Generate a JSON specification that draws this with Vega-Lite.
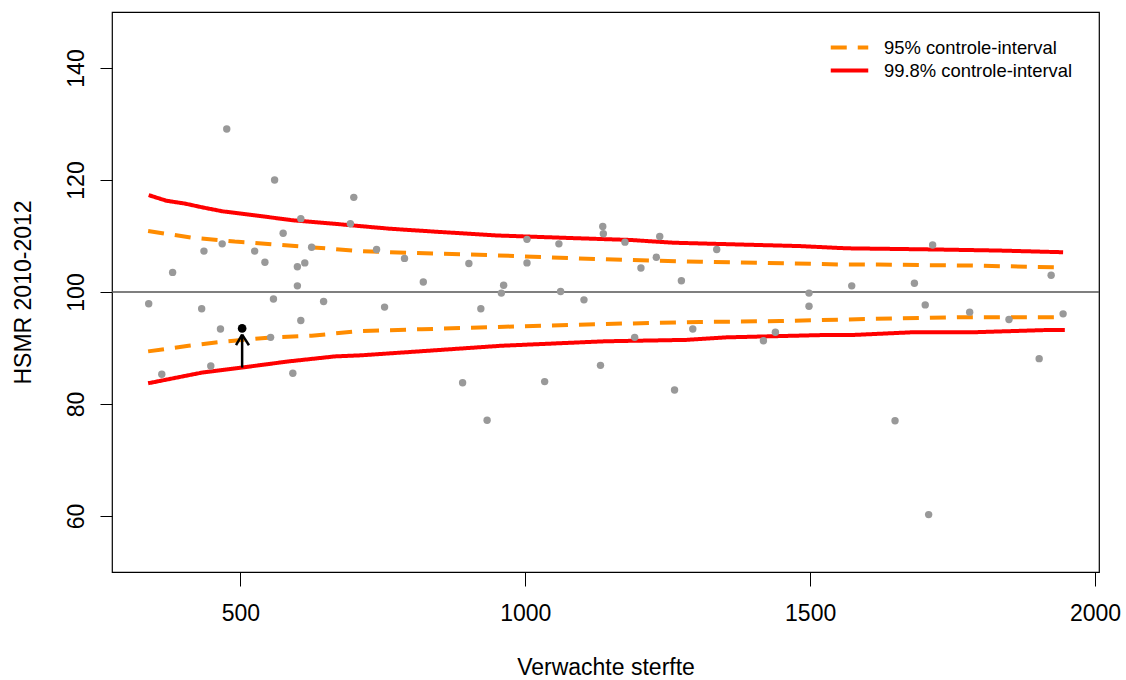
{
  "$schema": "https://vega.github.io/schema/vega-lite/v6.json",
  "width": 987,
  "height": 560,
  "autosize": {"type": "none"},
  "padding": {"left": 112, "top": 12, "right": 27, "bottom": 108},
  "background": "white",
  "config": {
    "view": {"stroke": "black", "strokeWidth": 1.2},
    "font": "Liberation Sans",
    "axis": {"grid": false, "domain": false, "tickColor": "black", "tickWidth": 1, "labelColor": "black", "titleColor": "black", "labelFont": "Liberation Sans", "titleFont": "Liberation Sans", "labelFontSize": 23, "titleFontSize": 23, "titleFontWeight": "normal", "labelFlush": false, "labelOverlap": false, "format": "d"}
  },
  "datasets": {
    "lines": [
      {"E": 339, "HSMR": 117.3, "band": "99.8% controle-interval", "side": "hi998"},
      {"E": 370, "HSMR": 116.3, "band": "99.8% controle-interval", "side": "hi998"},
      {"E": 402, "HSMR": 115.8, "band": "99.8% controle-interval", "side": "hi998"},
      {"E": 434, "HSMR": 115.1, "band": "99.8% controle-interval", "side": "hi998"},
      {"E": 469, "HSMR": 114.4, "band": "99.8% controle-interval", "side": "hi998"},
      {"E": 525, "HSMR": 113.7, "band": "99.8% controle-interval", "side": "hi998"},
      {"E": 592, "HSMR": 112.8, "band": "99.8% controle-interval", "side": "hi998"},
      {"E": 674, "HSMR": 112.1, "band": "99.8% controle-interval", "side": "hi998"},
      {"E": 762, "HSMR": 111.3, "band": "99.8% controle-interval", "side": "hi998"},
      {"E": 838, "HSMR": 110.8, "band": "99.8% controle-interval", "side": "hi998"},
      {"E": 949, "HSMR": 110.1, "band": "99.8% controle-interval", "side": "hi998"},
      {"E": 1090, "HSMR": 109.6, "band": "99.8% controle-interval", "side": "hi998"},
      {"E": 1183, "HSMR": 109.3, "band": "99.8% controle-interval", "side": "hi998"},
      {"E": 1260, "HSMR": 108.8, "band": "99.8% controle-interval", "side": "hi998"},
      {"E": 1388, "HSMR": 108.45, "band": "99.8% controle-interval", "side": "hi998"},
      {"E": 1482, "HSMR": 108.2, "band": "99.8% controle-interval", "side": "hi998"},
      {"E": 1564, "HSMR": 107.8, "band": "99.8% controle-interval", "side": "hi998"},
      {"E": 1716, "HSMR": 107.6, "band": "99.8% controle-interval", "side": "hi998"},
      {"E": 1833, "HSMR": 107.4, "band": "99.8% controle-interval", "side": "hi998"},
      {"E": 1944, "HSMR": 107.1, "band": "99.8% controle-interval", "side": "hi998"},
      {"E": 338, "HSMR": 83.7, "band": "99.8% controle-interval", "side": "lo998"},
      {"E": 432, "HSMR": 85.6, "band": "99.8% controle-interval", "side": "lo998"},
      {"E": 502, "HSMR": 86.5, "band": "99.8% controle-interval", "side": "lo998"},
      {"E": 584, "HSMR": 87.6, "band": "99.8% controle-interval", "side": "lo998"},
      {"E": 666, "HSMR": 88.5, "band": "99.8% controle-interval", "side": "lo998"},
      {"E": 713, "HSMR": 88.7, "band": "99.8% controle-interval", "side": "lo998"},
      {"E": 958, "HSMR": 90.4, "band": "99.8% controle-interval", "side": "lo998"},
      {"E": 1140, "HSMR": 91.2, "band": "99.8% controle-interval", "side": "lo998"},
      {"E": 1283, "HSMR": 91.45, "band": "99.8% controle-interval", "side": "lo998"},
      {"E": 1353, "HSMR": 91.9, "band": "99.8% controle-interval", "side": "lo998"},
      {"E": 1517, "HSMR": 92.3, "band": "99.8% controle-interval", "side": "lo998"},
      {"E": 1570, "HSMR": 92.3, "band": "99.8% controle-interval", "side": "lo998"},
      {"E": 1678, "HSMR": 92.8, "band": "99.8% controle-interval", "side": "lo998"},
      {"E": 1783, "HSMR": 92.8, "band": "99.8% controle-interval", "side": "lo998"},
      {"E": 1912, "HSMR": 93.2, "band": "99.8% controle-interval", "side": "lo998"},
      {"E": 1947, "HSMR": 93.2, "band": "99.8% controle-interval", "side": "lo998"},
      {"E": 338, "HSMR": 110.9, "band": "95% controle-interval", "side": "hi95"},
      {"E": 414, "HSMR": 109.7, "band": "95% controle-interval", "side": "hi95"},
      {"E": 490, "HSMR": 109.0, "band": "95% controle-interval", "side": "hi95"},
      {"E": 508, "HSMR": 108.9, "band": "95% controle-interval", "side": "hi95"},
      {"E": 596, "HSMR": 108.2, "band": "95% controle-interval", "side": "hi95"},
      {"E": 713, "HSMR": 107.3, "band": "95% controle-interval", "side": "hi95"},
      {"E": 794, "HSMR": 107.0, "band": "95% controle-interval", "side": "hi95"},
      {"E": 935, "HSMR": 106.6, "band": "95% controle-interval", "side": "hi95"},
      {"E": 1122, "HSMR": 105.9, "band": "95% controle-interval", "side": "hi95"},
      {"E": 1306, "HSMR": 105.4, "band": "95% controle-interval", "side": "hi95"},
      {"E": 1423, "HSMR": 105.2, "band": "95% controle-interval", "side": "hi95"},
      {"E": 1564, "HSMR": 104.9, "band": "95% controle-interval", "side": "hi95"},
      {"E": 1619, "HSMR": 104.9, "band": "95% controle-interval", "side": "hi95"},
      {"E": 1795, "HSMR": 104.7, "band": "95% controle-interval", "side": "hi95"},
      {"E": 1936, "HSMR": 104.4, "band": "95% controle-interval", "side": "hi95"},
      {"E": 338, "HSMR": 89.4, "band": "95% controle-interval", "side": "lo95"},
      {"E": 409, "HSMR": 90.4, "band": "95% controle-interval", "side": "lo95"},
      {"E": 467, "HSMR": 91.1, "band": "95% controle-interval", "side": "lo95"},
      {"E": 555, "HSMR": 91.9, "band": "95% controle-interval", "side": "lo95"},
      {"E": 625, "HSMR": 92.2, "band": "95% controle-interval", "side": "lo95"},
      {"E": 713, "HSMR": 93.05, "band": "95% controle-interval", "side": "lo95"},
      {"E": 818, "HSMR": 93.35, "band": "95% controle-interval", "side": "lo95"},
      {"E": 964, "HSMR": 93.8, "band": "95% controle-interval", "side": "lo95"},
      {"E": 1122, "HSMR": 94.25, "band": "95% controle-interval", "side": "lo95"},
      {"E": 1306, "HSMR": 94.65, "band": "95% controle-interval", "side": "lo95"},
      {"E": 1447, "HSMR": 94.8, "band": "95% controle-interval", "side": "lo95"},
      {"E": 1564, "HSMR": 95.1, "band": "95% controle-interval", "side": "lo95"},
      {"E": 1766, "HSMR": 95.5, "band": "95% controle-interval", "side": "lo95"},
      {"E": 1936, "HSMR": 95.5, "band": "95% controle-interval", "side": "lo95"}
    ],
    "points": [
      {"E": 476, "HSMR": 129.1}, {"E": 560, "HSMR": 120.0}, {"E": 699, "HSMR": 116.9},
      {"E": 606, "HSMR": 113.1}, {"E": 693, "HSMR": 112.2}, {"E": 575, "HSMR": 110.5},
      {"E": 468, "HSMR": 108.6}, {"E": 436, "HSMR": 107.3}, {"E": 625, "HSMR": 108.0},
      {"E": 525, "HSMR": 107.3}, {"E": 543, "HSMR": 105.3}, {"E": 600, "HSMR": 104.5},
      {"E": 613, "HSMR": 105.2}, {"E": 381, "HSMR": 103.5}, {"E": 600, "HSMR": 101.1},
      {"E": 339, "HSMR": 97.9}, {"E": 432, "HSMR": 97.0}, {"E": 558, "HSMR": 98.75},
      {"E": 646, "HSMR": 98.3}, {"E": 606, "HSMR": 94.9}, {"E": 465, "HSMR": 93.4},
      {"E": 553, "HSMR": 91.9}, {"E": 448, "HSMR": 86.8}, {"E": 362, "HSMR": 85.3},
      {"E": 592, "HSMR": 85.5}, {"E": 739, "HSMR": 107.6}, {"E": 788, "HSMR": 106.0},
      {"E": 821, "HSMR": 101.8}, {"E": 753, "HSMR": 97.3}, {"E": 901, "HSMR": 105.1},
      {"E": 922, "HSMR": 97.0}, {"E": 962, "HSMR": 101.2}, {"E": 958, "HSMR": 99.8},
      {"E": 1003, "HSMR": 109.4}, {"E": 1003, "HSMR": 105.2}, {"E": 1059, "HSMR": 108.6},
      {"E": 1062, "HSMR": 100.1}, {"E": 1103, "HSMR": 98.6}, {"E": 1136, "HSMR": 111.7},
      {"E": 1137, "HSMR": 110.4}, {"E": 1132, "HSMR": 86.9}, {"E": 890, "HSMR": 83.8},
      {"E": 1034, "HSMR": 84.0}, {"E": 933, "HSMR": 77.1}, {"E": 1175, "HSMR": 108.9},
      {"E": 1236, "HSMR": 109.9}, {"E": 1230, "HSMR": 106.2}, {"E": 1203, "HSMR": 104.3},
      {"E": 1274, "HSMR": 102.0}, {"E": 1336, "HSMR": 107.6}, {"E": 1192, "HSMR": 91.9},
      {"E": 1294, "HSMR": 93.4}, {"E": 1262, "HSMR": 82.5}, {"E": 1418, "HSMR": 91.3},
      {"E": 1439, "HSMR": 92.8}, {"E": 1498, "HSMR": 99.8}, {"E": 1498, "HSMR": 97.45},
      {"E": 1573, "HSMR": 101.1}, {"E": 1715, "HSMR": 108.4}, {"E": 1683, "HSMR": 101.55},
      {"E": 1923, "HSMR": 103.0}, {"E": 1702, "HSMR": 97.7}, {"E": 1780, "HSMR": 96.4},
      {"E": 1849, "HSMR": 95.1}, {"E": 1944, "HSMR": 96.1}, {"E": 1902, "HSMR": 88.1},
      {"E": 1649, "HSMR": 77.0}, {"E": 1708, "HSMR": 60.25}
    ],
    "arrow": [
      {"E": 503, "HSMR": 86.5, "E2": 503, "HSMR2": 92.4},
      {"E": 492.3, "HSMR": 90.5, "E2": 503, "HSMR2": 92.4},
      {"E": 515, "HSMR": 90.5, "E2": 503, "HSMR2": 92.4}
    ],
    "highlight": [{"E": 503, "HSMR": 93.5}],
    "ref": [{"HSMR": 100}]
  },
  "layer": [
    {
      "data": {"name": "ref"},
      "mark": {"type": "rule", "color": "#555555", "strokeWidth": 1.5},
      "encoding": {
        "y": {"field": "HSMR", "type": "quantitative", "scale": {"domain": [50, 150], "nice": false, "zero": false}}
      }
    },
    {
      "data": {"name": "lines"},
      "mark": {"type": "line", "strokeWidth": 4, "strokeCap": "butt", "interpolate": "linear"},
      "encoding": {
        "x": {"field": "E", "type": "quantitative", "scale": {"domain": [274.6, 2007], "nice": false, "zero": false},
          "axis": {"values": [500, 1000, 1500, 2000], "tickSize": 14, "labelPadding": 16, "title": "Verwachte sterfte", "titleY": 102, "titleBaseline": "alphabetic"}},
        "y": {"field": "HSMR", "type": "quantitative", "scale": {"domain": [50, 150], "nice": false, "zero": false},
          "axis": {"values": [60, 80, 100, 120, 140], "tickSize": 12, "labelAngle": 270, "labelAlign": "center", "labelBaseline": "bottom", "labelPadding": 12, "title": "HSMR 2010-2012", "titleX": -82, "titleY": 280, "titleAngle": 270, "titleAlign": "center", "titleBaseline": "alphabetic"}},
        "color": {"field": "band", "type": "nominal",
          "scale": {"domain": ["95% controle-interval", "99.8% controle-interval"], "range": ["#FF8C00", "#FF0000"]},
          "legend": {"orient": "none", "legendX": 728, "legendY": 26, "title": null, "symbolType": "M-2.5,0H2.5", "symbolSize": 225, "symbolStrokeWidth": 4, "labelFontSize": 18.4, "labelFont": "Liberation Sans", "labelColor": "black", "labelOffset": 25, "labelLimit": 400, "rowPadding": 4, "padding": 0}},
        "strokeDash": {"field": "band", "type": "nominal",
          "scale": {"domain": ["95% controle-interval", "99.8% controle-interval"], "range": [[16, 11], [1, 0]]},
          "legend": {"orient": "none", "legendX": 728, "legendY": 26, "title": null, "symbolType": "M-2.5,0H2.5", "symbolSize": 225, "symbolStrokeWidth": 4, "labelFontSize": 18.4, "labelFont": "Liberation Sans", "labelColor": "black", "labelOffset": 25, "labelLimit": 400, "rowPadding": 4, "padding": 0}},
        "detail": {"field": "side", "type": "nominal"}
      }
    },
    {
      "data": {"name": "points"},
      "mark": {"type": "circle", "color": "#999999", "opacity": 1, "size": 55},
      "encoding": {
        "x": {"field": "E", "type": "quantitative"},
        "y": {"field": "HSMR", "type": "quantitative"}
      }
    },
    {
      "data": {"name": "arrow"},
      "mark": {"type": "rule", "color": "black", "strokeWidth": 2.5},
      "encoding": {
        "x": {"field": "E", "type": "quantitative"},
        "y": {"field": "HSMR", "type": "quantitative"},
        "x2": {"field": "E2"},
        "y2": {"field": "HSMR2"}
      }
    },
    {
      "data": {"name": "highlight"},
      "mark": {"type": "circle", "color": "black", "opacity": 1, "size": 75},
      "encoding": {
        "x": {"field": "E", "type": "quantitative"},
        "y": {"field": "HSMR", "type": "quantitative"}
      }
    }
  ]
}
